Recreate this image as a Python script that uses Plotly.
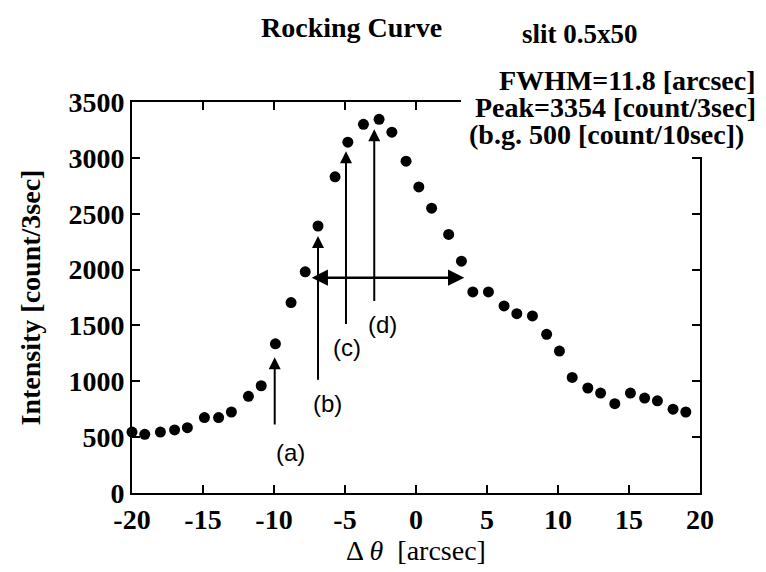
import plotly.graph_objects as go

# Data (angle offset in arcsec, intensity in count/3sec)
dtheta = [-20.0, -19.1, -18.0, -17.0, -16.1, -14.9, -13.9, -13.0, -11.8, -10.9,
          -9.9, -8.8, -7.8, -6.9, -5.7, -4.8, -3.7, -2.6, -1.7, -0.7,
          0.2, 1.1, 2.3, 3.2, 4.0, 5.1, 6.2, 7.1, 8.2, 9.2,
          10.1, 11.0, 12.1, 13.0, 14.0, 15.1, 16.1, 17.0, 18.1, 19.0]
intensity = [545, 525, 545, 565, 585, 675, 675, 725, 865, 960,
             1335, 1705, 1980, 2390, 2830, 3140, 3300, 3345, 3230, 2970,
             2740, 2550, 2315, 2075, 1800, 1800, 1675, 1605, 1585, 1420,
             1270, 1035, 940, 895, 800, 895, 850, 825, 750, 725]

# Marker arrows (label, x, tail y, head y, label x, label y)
arrow_labels = ["(a)", "(b)", "(c)", "(d)"]
arrow_x = [-9.95, -6.9, -4.93, -2.94]
arrow_tail = [600, 1000, 1500, 1705]
arrow_head = [1215, 2300, 3060, 3255]
label_x = [-8.85, -6.25, -4.85, -2.35]
label_y = [360, 800, 1305, 1505]

# FWHM double arrow
fwhm_y = 1927
fwhm_x0, fwhm_x1 = -7.45, 3.4

xticks = [-20, -15, -10, -5, 0, 5, 10, 15, 20]
yticks = [0, 500, 1000, 1500, 2000, 2500, 3000, 3500]

SERIF = "Liberation Serif, Times New Roman, serif"
SANS = "Liberation Sans, Arial, sans-serif"

fig = go.Figure()
fig.add_trace(go.Scatter(
    x=dtheta, y=intensity, mode="markers",
    marker=dict(color="black", size=11, line=dict(width=0)),
    cliponaxis=False, showlegend=False, hoverinfo="skip"))

ann = []
# white box hiding the frame corner behind the info text (drawn first)
ann.append(dict(x=0.801, y=0.942, xref="paper", yref="paper", text=" ",
                showarrow=False, xanchor="center", yanchor="middle",
                width=252, height=64, bgcolor="white", borderpad=0, borderwidth=0))

for lab, x, t, h, lx, ly in zip(arrow_labels, arrow_x, arrow_tail, arrow_head, label_x, label_y):
    ann.append(dict(x=x, y=h, ax=x, ay=t, xref="x", yref="y", axref="x", ayref="y",
                    text="", showarrow=True, arrowhead=2, arrowsize=1.2,
                    arrowwidth=2, arrowcolor="black", standoff=0))
    ann.append(dict(x=lx, y=ly, xref="x", yref="y", text=lab, showarrow=False,
                    xanchor="center", yanchor="middle",
                    font=dict(family=SANS, size=24, color="black")))

ann.append(dict(x=fwhm_x1, y=fwhm_y, ax=fwhm_x0, ay=fwhm_y, xref="x", yref="y",
                axref="x", ayref="y", text="", showarrow=True, arrowhead=2,
                startarrowhead=2, arrowside="end+start", arrowsize=1.3,
                startarrowsize=1.3, arrowwidth=2.5, arrowcolor="black", standoff=0,
                startstandoff=0))

def txt(x, y, s, size=28, xanchor="center"):
    return dict(x=x, y=y, xref="paper", yref="paper", text=s, showarrow=False,
                xanchor=xanchor, yanchor="middle",
                font=dict(family=SERIF, size=size, color="black"))

# Title texts
ann.append(txt(0.386, 1.19, "<b>Rocking Curve</b>"))
ann.append(txt(0.789, 1.175, "<b>slit 0.5x50</b>", size=27))
ann.append(txt(1.1, 1.055, "<b>FWHM=11.8 [arcsec]</b>", xanchor="right"))
ann.append(txt(0.852, 0.987, "<b>Peak=3354 [count/3sec]</b>"))
ann.append(txt(0.836, 0.917, "<b>(b.g. 500 [count/10sec])</b>"))

fig.update_layout(
    width=766, height=572,
    margin=dict(l=132, r=66, t=102, b=71),
    paper_bgcolor="white", plot_bgcolor="white",
    showlegend=False,
    annotations=ann,
    xaxis=dict(range=[-20, 20], tickvals=xticks, ticktext=[str(v) for v in xticks],
               showline=True, linecolor="black", linewidth=2, mirror="ticks",
               ticks="inside", ticklen=8, tickwidth=2, tickcolor="black",
               showgrid=False, zeroline=False,
               tickfont=dict(family=SERIF, size=28, color="black", weight="bold"),
               title=dict(text="Δ <i>θ</i>  [arcsec]", standoff=6,
                          font=dict(family=SERIF, size=28, color="black"))),
    yaxis=dict(range=[0, 3500], tickvals=yticks, ticktext=[str(v) for v in yticks],
               showline=True, linecolor="black", linewidth=2, mirror="ticks",
               ticks="inside", ticklen=8, tickwidth=2, tickcolor="black",
               showgrid=False, zeroline=False, ticklabelstandoff=0,
               tickfont=dict(family=SERIF, size=28, color="black", weight="bold"),
               title=dict(text="<b>Intensity [count/3sec]</b>", standoff=20,
                          font=dict(family=SERIF, size=28, color="black"))),
)

fig.write_html("out.html")
